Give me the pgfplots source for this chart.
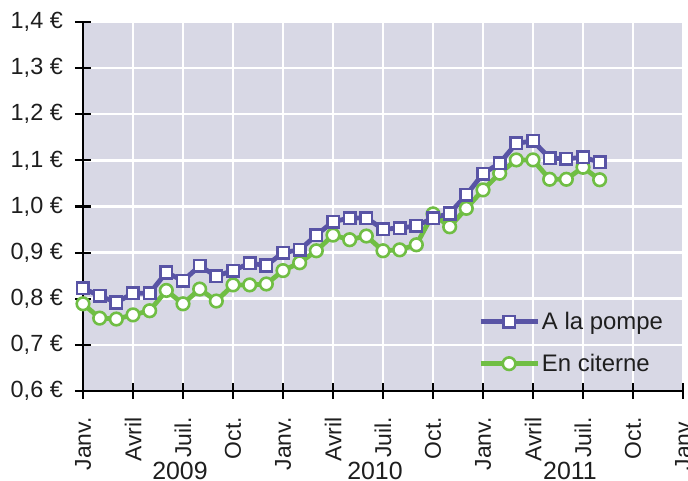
\documentclass[border=0pt]{standalone}
\usepackage{fontspec}
\setmainfont{Liberation Sans}
\usepackage{pgfplots}
\pgfplotsset{compat=1.18}
\definecolor{bgcol}{RGB}{216,216,229}
\definecolor{bluec}{RGB}{89,84,165}
\definecolor{greenc}{RGB}{112,190,68}
\definecolor{txt}{RGB}{30,30,30}
\begin{document}
\begin{tikzpicture}
\begin{axis}[
  name=ax,
  scale only axis, width=600bp, height=369bp,
  xmin=0, xmax=36, ymin=0.6, ymax=1.4,
  axis x line=bottom, axis y line=left,
  axis line style={-, line width=2.2bp, black},
  axis background/.style={fill=bgcol},
  grid=major,
  major grid style={white, line width=2.5bp},
  xtick={0,3,...,36},
  xticklabels={Janv.,Avril,Juil.,Oct.,Janv.,Avril,Juil.,Oct.,Janv.,Avril,Juil.,Oct.,Janv.},
  ytick={0.6,0.7,0.8,0.9,1.0,1.1,1.2,1.3,1.4},
  yticklabels={{0,6 €},{0,7 €},{0,8 €},{0,9 €},{1,0 €},{1,1 €},{1,2 €},{1,3 €},{1,4 €}},
  tick align=center,
  major tick length=16bp,
  tick style={black, line width=2.2bp},
  ticklabel style={font=\fontsize{23.5}{27}\selectfont, text=txt},
  yticklabel style={anchor=east, inner sep=0pt, xshift=-12bp},
  xticklabel style={font=\fontsize{23}{27}\selectfont, yshift=-18bp, rotate=90, anchor=east, inner sep=0pt},
  clip=false,
  reverse legend,
  legend style={draw=none, fill=none, inner sep=0pt, at={(axis cs:23.7,0.775)}, anchor=north west,
    font=\fontsize{24}{28}\selectfont, text=txt, row sep=19bp,
    /tikz/every even column/.append style={column sep=4bp}},
  legend cell align=left,
  legend image code/.code={\draw[mark repeat=2,mark phase=2,#1] plot coordinates {(0bp,0bp) (28.5bp,0bp) (57bp,0bp)};},
]
\addplot[greenc, line width=4.8bp, mark=*, mark size=6.3bp, mark options={fill=white, line width=2.6bp, solid}] coordinates {
(0,0.789) (1,0.758) (2,0.756) (3,0.765) (4,0.774) (5,0.818) (6,0.789) (7,0.821)
(8,0.795) (9,0.830) (10,0.830) (11,0.832) (12,0.861) (13,0.878) (14,0.904) (15,0.938)
(16,0.928) (17,0.936) (18,0.904) (19,0.906) (20,0.917) (21,0.984) (22,0.956) (23,0.996)
(24,1.036) (25,1.072) (26,1.101) (27,1.101) (28,1.059) (29,1.059) (30,1.085) (31,1.058)
};
\addlegendentry{En citerne}
\addplot[bluec, line width=4.8bp, mark=square*, mark size=5.8bp, mark options={fill=white, line width=2.6bp, solid}] coordinates {
(0,0.823) (1,0.806) (2,0.792) (3,0.812) (4,0.812) (5,0.857) (6,0.839) (7,0.871)
(8,0.849) (9,0.861) (10,0.877) (11,0.872) (12,0.900) (13,0.906) (14,0.938) (15,0.967)
(16,0.975) (17,0.975) (18,0.951) (19,0.953) (20,0.958) (21,0.975) (22,0.985) (23,1.025)
(24,1.071) (25,1.094) (26,1.137) (27,1.142) (28,1.105) (29,1.103) (30,1.107) (31,1.096)
};
\addlegendentry{A la pompe}
\node[anchor=base, font=\fontsize{25}{28}\selectfont, text=txt] at ([yshift=-89bp]axis cs:5.82,0.6) {2009};
\node[anchor=base, font=\fontsize{25}{28}\selectfont, text=txt] at ([yshift=-89bp]axis cs:17.52,0.6) {2010};
\node[anchor=base, font=\fontsize{25}{28}\selectfont, text=txt] at ([yshift=-89bp]axis cs:29.22,0.6) {2011};
\end{axis}
\pgfresetboundingbox
\path[use as bounding box] ([shift={(-83bp,-90bp)}]ax.south west) rectangle ([shift={(5bp,22bp)}]ax.north east);
\end{tikzpicture}
\end{document}
